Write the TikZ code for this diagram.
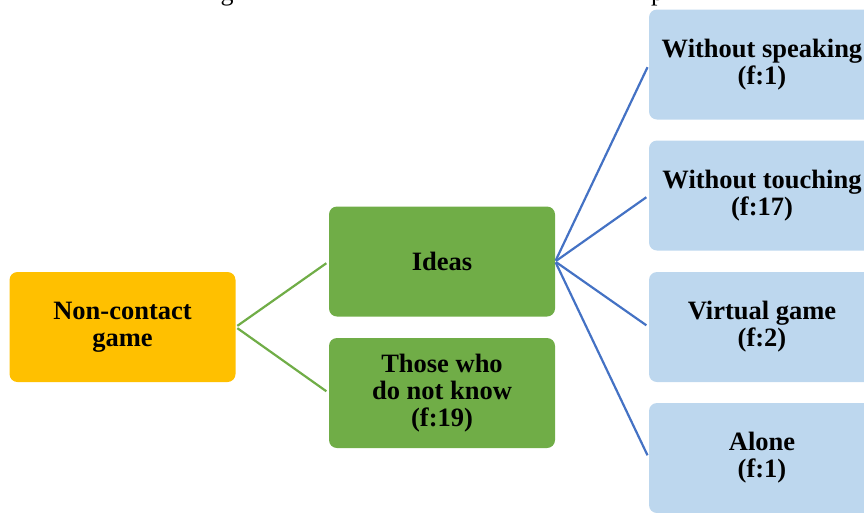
\documentclass[tikz,border=0pt]{standalone}
\usepackage{fontspec}
\setmainfont{Liberation Serif}
\definecolor{orangebox}{HTML}{FFC000}
\definecolor{greenbox}{HTML}{70AD47}
\definecolor{bluebox}{HTML}{BDD7EE}
\definecolor{blueline}{HTML}{4472C4}
\begin{document}
\begin{tikzpicture}[x=1pt,y=-1pt,
  box/.style={rounded corners=8pt, minimum width=226pt, minimum height=110pt,
    align=center, inner sep=0pt,
    font=\fontsize{26.5}{27}\selectfont\bfseries},
  rootbox/.style={box, fill=orangebox},
  midbox/.style={box, fill=greenbox},
  leafbox/.style={box, fill=bluebox},
  gline/.style={draw=greenbox, line width=2.2pt, shorten <=2pt, shorten >=3pt},
  bline/.style={draw=blueline, line width=2.2pt, shorten <=1pt, shorten >=3pt},
  captxt/.style={inner sep=0pt, font=\fontsize{26}{26}\selectfont}
]
\useasboundingbox (0,0) rectangle (864,512);
\clip (0,0) rectangle (864,512);
% cut-off caption descenders
\node[captxt, anchor=base] (capg) at (227,0.5) {g};
\node[captxt, anchor=base west] (capp) at (651,0.5) {p};
% boxes
\node[rootbox] (root) at (122.5,327) {Non-contact\\game};
\node[midbox] (ideas) at (442,261.5) {Ideas};
\node[midbox] (dnk) at (442,393) {Those who\\do not know\\(f:19)};
\node[leafbox] (l1) at (762,64.5) {Without speaking\\(f:1)};
\node[leafbox] (l2) at (762,195.5) {Without touching\\(f:17)};
\node[leafbox] (l3) at (762,327) {Virtual game\\(f:2)};
\node[leafbox] (l4) at (762,458) {Alone\\(f:1)};
% connectors
\draw[gline] (root.east) -- (ideas.west);
\draw[gline] (root.east) -- (dnk.west);
\draw[bline] (ideas.east) -- (l1.west);
\draw[bline] (ideas.east) -- (l2.west);
\draw[bline] (ideas.east) -- (l3.west);
\draw[bline] (ideas.east) -- (l4.west);
\end{tikzpicture}
\end{document}
